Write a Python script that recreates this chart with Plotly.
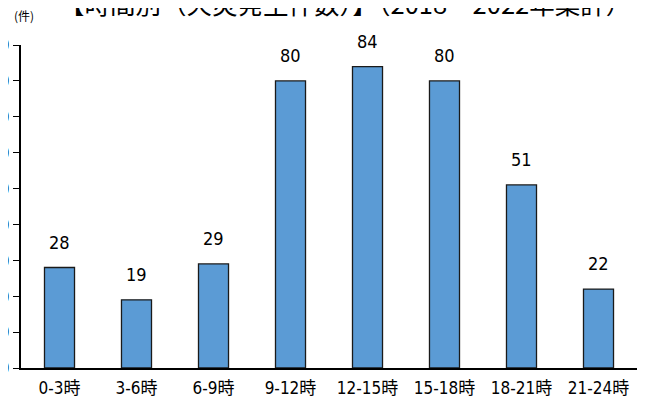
import plotly.graph_objects as go

categories = ["0-3時", "3-6時", "6-9時", "9-12時", "12-15時", "15-18時", "18-21時", "21-24時"]
values = [28, 19, 29, 80, 84, 80, 51, 22]
y_ticks = [0, 10, 20, 30, 40, 50, 60, 70, 80, 90]

NARROW = "DejaVu Sans Condensed, Liberation Sans Narrow, Noto Sans CJK JP, sans-serif"
CJK = "Noto Sans CJK JP, sans-serif"

# page body adds an 8px offset; layout is expressed in div pixels
OFF = 8
W, H = 645, 406
ML, MR, MT, MB = 21 - OFF, W - (637 - OFF), 45 - OFF, H - (368 - OFF)
PW = W - ML - MR
PH = H - MT - MB

fig = go.Figure()
fig.add_trace(go.Bar(
    x=categories, y=values,
    marker=dict(color="#5B9BD5", line=dict(color="#1a1a1a", width=1.3)),
    width=0.39,
))

for c, v in zip(categories, values):
    fig.add_annotation(x=c, y=v, text=str(v), showarrow=False,
                       yanchor="bottom", yshift=13,
                       font=dict(family=NARROW, size=18, color="#000"))

# unit label
fig.add_annotation(xref="paper", yref="paper",
                   x=(24 - OFF - ML) / PW, y=1 + (MT - (15 - OFF)) / PH,
                   xanchor="center", yanchor="middle", text="(件)",
                   showarrow=False, font=dict(family=CJK, size=12, color="#000"))

# title (partly above the visible area, as in the reference)
fig.add_annotation(xref="paper", yref="paper",
                   x=(345 - OFF - ML) / PW, y=1 + (MT - (2 - OFF)) / PH,
                   xanchor="center", yanchor="middle",
                   text="【時間別（火災発生件数）】（2018～2022年集計）",
                   showarrow=False, font=dict(family=CJK, size=25.5, color="#000"))

fig.update_layout(
    width=W, height=H,
    margin=dict(l=ML, r=MR, t=MT, b=MB, autoexpand=False),
    paper_bgcolor="white", plot_bgcolor="white",
    showlegend=False,
)
fig.update_xaxes(showline=True, linecolor="#000", linewidth=1.5, ticks="",
                 showgrid=False, automargin=False, ticklabelstandoff=4,
                 tickfont=dict(family=NARROW, size=17, color="#000"))
fig.update_yaxes(range=[0, 90], tickvals=y_ticks, showline=True, linecolor="#000",
                 linewidth=1.5, ticks="outside", ticklen=6, tickcolor="#000",
                 tickwidth=1.3, showgrid=False, zeroline=False, automargin=False,
                 ticklabelstandoff=0,
                 tickfont=dict(family=NARROW, size=18, color="#000"))

fig.write_html("out.html")
